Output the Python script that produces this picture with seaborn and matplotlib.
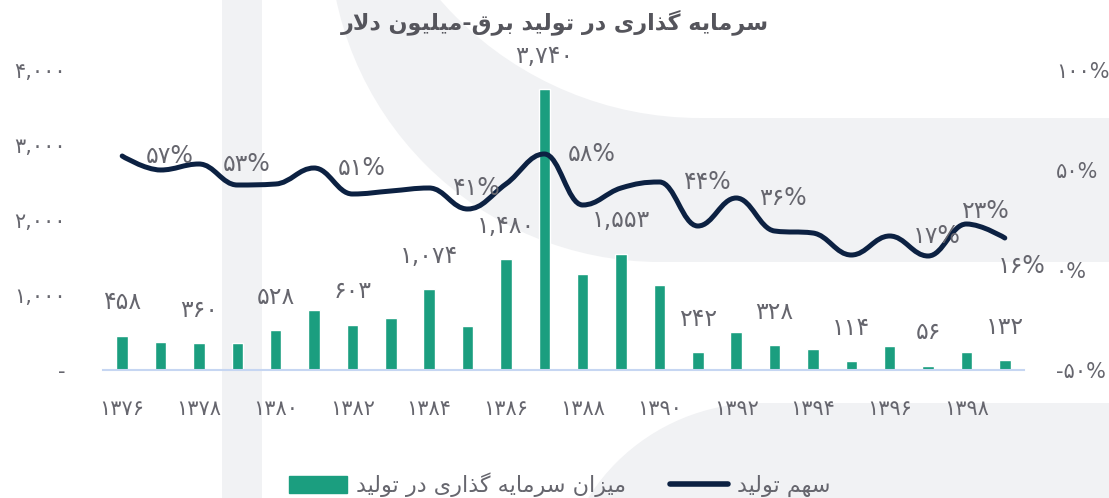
import numpy as np
import pandas as pd
import seaborn as sns
import matplotlib.pyplot as plt
from matplotlib.path import Path
from matplotlib.patches import PathPatch, Rectangle, Circle
from matplotlib.lines import Line2D

# data
years = list(range(1376, 1400))
invest = [458, 375, 360, 365, 528, 800, 603, 690, 1074, 585, 1480, 3740,
          1280, 1553, 1130, 242, 505, 328, 285, 114, 320, 56, 240, 132]
share = [57, 50, 53, 42.5, 43, 51, 38, 39.5, 41, 30.5, 43, 58,
         32.5, 41, 44, 22, 36, 19.5, 18.5, 7.5, 17, 7, 23, 16]
bar_label_idx = [0, 2, 4, 6, 8, 10, 11, 13, 15, 17, 19, 21, 23]
share_label_idx = [0, 2, 5, 8, 11, 14, 16, 20, 22, 23]
xtick_years = years[::2]

title = "سرمایه گذاری در تولید برق-میلیون دلار"
bar_name = "میزان سرمایه گذاری در تولید"
line_name = "سهم تولید"

GREEN = "#1b9e7f"
NAVY = "#0c2142"
TXT = "#66666e"
BG = "#f1f2f4"

# --- minimal persian shaping (matplotlib has no bidi / joining) ---
FORMS = {
    "ا": ("\uFE8D", "\uFE8E"), "د": ("\uFEA9", "\uFEAA"), "ذ": ("\uFEAB", "\uFEAC"),
    "ر": ("\uFEAD", "\uFEAE"), "ز": ("\uFEAF", "\uFEB0"), "و": ("\uFEED", "\uFEEE"),
    "ب": ("\uFE8F", "\uFE90", "\uFE91", "\uFE92"), "ت": ("\uFE95", "\uFE96", "\uFE97", "\uFE98"),
    "س": ("\uFEB1", "\uFEB2", "\uFEB3", "\uFEB4"), "ق": ("\uFED5", "\uFED6", "\uFED7", "\uFED8"),
    "ل": ("\uFEDD", "\uFEDE", "\uFEDF", "\uFEE0"), "م": ("\uFEE1", "\uFEE2", "\uFEE3", "\uFEE4"),
    "ن": ("\uFEE5", "\uFEE6", "\uFEE7", "\uFEE8"), "ه": ("\uFEE9", "\uFEEA", "\uFEEB", "\uFEEC"),
    "ی": ("\uFBFC", "\uFBFD", "\uFBFE", "\uFBFF"), "گ": ("\uFB92", "\uFB93", "\uFB94", "\uFB95"),
}


def fa(text):
    chars = list(text)
    out = []
    i = 0
    while i < len(chars):
        c = chars[i]
        if c not in FORMS:
            out.append(c)
            i += 1
            continue
        prev = chars[i - 1] if i > 0 else None
        joins_prev = prev in FORMS and len(FORMS[prev]) == 4
        if c == "ل" and i + 1 < len(chars) and chars[i + 1] == "ا":
            out.append("\uFEFC" if joins_prev else "\uFEFB")
            i += 2
            continue
        nxt = chars[i + 1] if i + 1 < len(chars) else None
        joins_next = len(FORMS[c]) == 4 and nxt in FORMS
        f = FORMS[c]
        if joins_prev and joins_next:
            out.append(f[3])
        elif joins_prev:
            out.append(f[1])
        elif joins_next:
            out.append(f[2])
        else:
            out.append(f[0])
        i += 1
    return "".join(out)[::-1]


def fa_num(s):
    return str(s).translate(str.maketrans("0123456789", "۰۱۲۳۴۵۶۷۸۹"))


def spline_path(xs, ys, smoothing=1.5):
    # highcharts-style spline control points
    n = len(xs)
    denom = smoothing + 1
    left = [(xs[i], ys[i]) for i in range(n)]
    right = [(xs[i], ys[i]) for i in range(n)]
    for i in range(1, n - 1):
        lx, ly = xs[i - 1], ys[i - 1]
        nx, ny = xs[i + 1], ys[i + 1]
        px, py = xs[i], ys[i]
        lcx = (smoothing * px + lx) / denom
        lcy = (smoothing * py + ly) / denom
        rcx = (smoothing * px + nx) / denom
        rcy = (smoothing * py + ny) / denom
        corr = (rcy - lcy) * (rcx - px) / (rcx - lcx) + py - rcy
        lcy += corr
        rcy += corr
        if lcy > ly and lcy > py:
            lcy = max(ly, py); rcy = 2 * py - lcy
        elif lcy < ly and lcy < py:
            lcy = min(ly, py); rcy = 2 * py - lcy
        if rcy > ny and rcy > py:
            rcy = max(ny, py); lcy = 2 * py - rcy
        elif rcy < ny and rcy < py:
            rcy = min(ny, py); lcy = 2 * py - rcy
        left[i] = (lcx, lcy)
        right[i] = (rcx, rcy)
    verts = [(xs[0], ys[0])]
    codes = [Path.MOVETO]
    for i in range(1, n):
        verts += [right[i - 1], left[i], (xs[i], ys[i])]
        codes += [Path.CURVE4] * 3
    return Path(verts, codes)


sns.set_style("white")
plt.rcParams["font.family"] = ["DejaVu Sans"]

W, H = 1109, 498
fig = plt.figure(figsize=(W / 100, H / 100), dpi=100)
fig.patch.set_facecolor("white")

# background watermark shapes, drawn in a pixel-unit axes (y from top)
bg = fig.add_axes([0, 0, 1, 1], zorder=-5)
bg.set_xlim(0, W)
bg.set_ylim(H, 0)
bg.axis("off")
bg.add_patch(Circle((660, -69), 331, color=BG, lw=0, zorder=1))
bg.add_patch(Rectangle((660, -5), W - 655, 267, color=BG, lw=0, zorder=1))
bg.add_patch(Circle((700, -227), 345, color="white", lw=0, zorder=2))
bg.add_patch(Rectangle((700, -5), W - 695, 123, color="white", lw=0, zorder=2))
bg.add_patch(Circle((760, 606), 203, color=BG, lw=0, zorder=3))
bg.add_patch(Rectangle((760, 403), W - 755, 100, color=BG, lw=0, zorder=3))
bg.add_patch(Rectangle((222, -5), 40, H + 10, color=BG, lw=0, zorder=4))

ax = fig.add_axes([103 / W, (H - 370) / H, 921 / W, 300 / H], zorder=1)
ax.patch.set_visible(False)

df = pd.DataFrame({"year": [str(y) for y in years], "invest": invest, "share": share})
sns.barplot(data=df, x="year", y="invest", color=GREEN, width=0.3, saturation=1, ax=ax)
ax.set_xlim(-0.5, len(years) - 0.5)
ax.set_ylim(0, 4000)
ax.set_xlabel("")
ax.set_ylabel("")

for i in bar_label_idx:
    ax.annotate(fa_num(f"{invest[i]:,}"), (i, invest[i]), xytext=(0, 24),
                textcoords="offset points", ha="center", va="center",
                fontsize=17, color=TXT)

ax.set_xticks([years.index(y) for y in xtick_years])
ax.set_xticklabels([fa_num(y) for y in xtick_years])
ax.set_yticks([0, 1000, 2000, 3000, 4000])
ax.set_yticklabels(["-"] + [fa_num(f"{v:,}") for v in [1000, 2000, 3000, 4000]])
ax.tick_params(axis="x", length=0, pad=21, labelsize=15, labelcolor=TXT)
ax.tick_params(axis="y", length=0, pad=27, labelsize=15, labelcolor=TXT)
for s in ["left", "right", "top"]:
    ax.spines[s].set_visible(False)
ax.spines["bottom"].set_color("#c6d6f2")
ax.spines["bottom"].set_linewidth(1.5)

ax2 = ax.twinx()
ax2.patch.set_visible(False)
ax2.set_ylim(-50, 100)
ax2.set_yticks([-50, 0, 50, 100])
ax2.set_yticklabels([fa_num(f"{v}%") for v in [-50, 0, 50, 100]])
ax2.tick_params(axis="y", length=0, pad=23, labelsize=15, labelcolor=TXT)
for s in ax2.spines.values():
    s.set_visible(False)

xs = np.arange(len(share))
ax2.add_patch(PathPatch(spline_path(xs, share), facecolor="none", edgecolor=NAVY,
                        lw=3.6, capstyle="round", joinstyle="round"))

share_offsets = {22: (13, 9), 23: (12, -20)}
for i in share_label_idx:
    off = share_offsets.get(i, (34, 0))
    ax2.annotate(fa_num(f"{share[i]:g}%"), (i, share[i]), xytext=off,
                 textcoords="offset points", ha="center", va="center",
                 fontsize=17, color=TXT)

fig.text(555 / W, 1 - 22 / H, fa(title), ha="center", va="center",
         fontsize=16, fontweight="bold", color="#55555c")

handles = [Rectangle((0, 0), 1, 1, color=GREEN),
           Line2D([0], [0], color=NAVY, lw=4, solid_capstyle="round")]
fig.legend(handles, [fa(bar_name), fa(line_name)], loc="center",
           bbox_to_anchor=(560 / W, 1 - 485 / H), ncol=2, frameon=False,
           fontsize=16, labelcolor=TXT, handlelength=2.6, handleheight=0.8,
           handletextpad=0.4, columnspacing=2.0)

fig.savefig("out.png", dpi=100)
